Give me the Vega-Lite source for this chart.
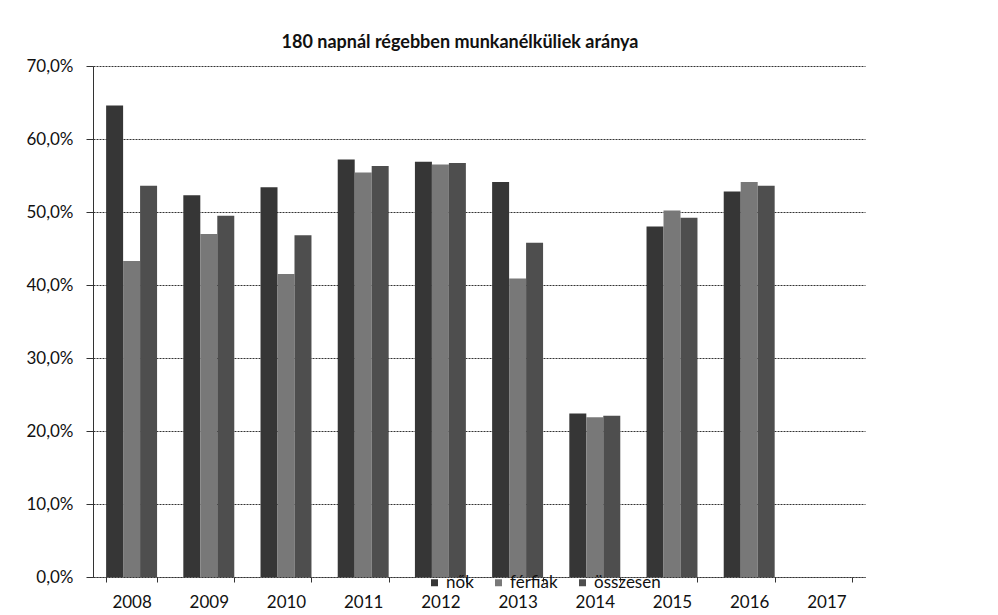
{
  "$schema": "https://vega.github.io/schema/vega-lite/v6.json",
  "width": 772,
  "height": 511,
  "autosize": {"type": "none"},
  "padding": {"left": 93, "top": 66, "right": 133, "bottom": 38},
  "background": "white",
  "title": {
    "text": "180 napnál régebben munkanélküliek aránya",
    "font": "Lato",
    "fontSize": 18,
    "fontWeight": "bold",
    "color": "#111",
    "anchor": "middle",
    "dx": -19,
    "offset": 5
  },
  "data": {
    "values": [
      {"ev": "2008", "nem": "nők", "arany": 0.646},
      {"ev": "2008", "nem": "férfiak", "arany": 0.433},
      {"ev": "2008", "nem": "összesen", "arany": 0.536},
      {"ev": "2009", "nem": "nők", "arany": 0.523},
      {"ev": "2009", "nem": "férfiak", "arany": 0.470},
      {"ev": "2009", "nem": "összesen", "arany": 0.495},
      {"ev": "2010", "nem": "nők", "arany": 0.534},
      {"ev": "2010", "nem": "férfiak", "arany": 0.415},
      {"ev": "2010", "nem": "összesen", "arany": 0.468},
      {"ev": "2011", "nem": "nők", "arany": 0.572},
      {"ev": "2011", "nem": "férfiak", "arany": 0.554},
      {"ev": "2011", "nem": "összesen", "arany": 0.563},
      {"ev": "2012", "nem": "nők", "arany": 0.569},
      {"ev": "2012", "nem": "férfiak", "arany": 0.565},
      {"ev": "2012", "nem": "összesen", "arany": 0.567},
      {"ev": "2013", "nem": "nők", "arany": 0.541},
      {"ev": "2013", "nem": "férfiak", "arany": 0.409},
      {"ev": "2013", "nem": "összesen", "arany": 0.458},
      {"ev": "2014", "nem": "nők", "arany": 0.224},
      {"ev": "2014", "nem": "férfiak", "arany": 0.219},
      {"ev": "2014", "nem": "összesen", "arany": 0.221},
      {"ev": "2015", "nem": "nők", "arany": 0.480},
      {"ev": "2015", "nem": "férfiak", "arany": 0.502},
      {"ev": "2015", "nem": "összesen", "arany": 0.492},
      {"ev": "2016", "nem": "nők", "arany": 0.528},
      {"ev": "2016", "nem": "férfiak", "arany": 0.541},
      {"ev": "2016", "nem": "összesen", "arany": 0.536}
    ]
  },
  "mark": {"type": "bar"},
  "encoding": {
    "x": {
      "field": "ev",
      "type": "nominal",
      "sort": null,
      "title": null,
      "scale": {
        "domain": ["2008", "2009", "2010", "2011", "2012", "2013", "2014", "2015", "2016", "2017"],
        "paddingInner": 0.34,
        "paddingOuter": 0.17
      },
      "axis": {
        "labelAngle": 0,
        "tickBand": "extent",
        "labelFont": "Lato",
        "labelFontSize": 17,
        "labelColor": "#111",
        "labelPadding": 12,
        "tickSize": 5,
        "tickColor": "#333",
        "domainColor": "#333",
        "domainDash": [2, 1]
      }
    },
    "xOffset": {
      "field": "nem",
      "type": "nominal",
      "sort": ["nők", "férfiak", "összesen"],
      "scale": {"paddingInner": 0, "paddingOuter": 0}
    },
    "y": {
      "field": "arany",
      "type": "quantitative",
      "title": null,
      "scale": {"domain": [0, 0.7], "nice": false},
      "axis": {
        "values": [0, 0.1, 0.2, 0.3, 0.4, 0.5, 0.6, 0.7],
        "labelExpr": "replace(format(datum.value, '.1%'), '.', ',')",
        "labelFont": "Lato",
        "labelFontSize": 17,
        "labelColor": "#111",
        "labelPadding": 13,
        "tickSize": 7,
        "tickColor": "#333",
        "domainColor": "#333",
        "grid": true,
        "gridColor": "#333",
        "gridDash": [2, 1],
        "gridWidth": 1
      }
    },
    "color": {
      "field": "nem",
      "type": "nominal",
      "sort": ["nők", "férfiak", "összesen"],
      "title": null,
      "scale": {
        "domain": ["nők", "férfiak", "összesen"],
        "range": ["#363636", "#787878", "#4e4e4e"]
      },
      "legend": {
        "orient": "none",
        "direction": "horizontal",
        "legendX": 333,
        "legendY": 508,
        "symbolType": "square",
        "symbolSize": 49,
        "symbolOffset": 0,
        "labelFont": "Lato",
        "labelFontSize": 17,
        "labelColor": "#111",
        "labelOffset": 3,
        "columnPadding": 16,
        "padding": 0
      }
    }
  },
  "config": {
    "view": {"stroke": null}
  }
}
